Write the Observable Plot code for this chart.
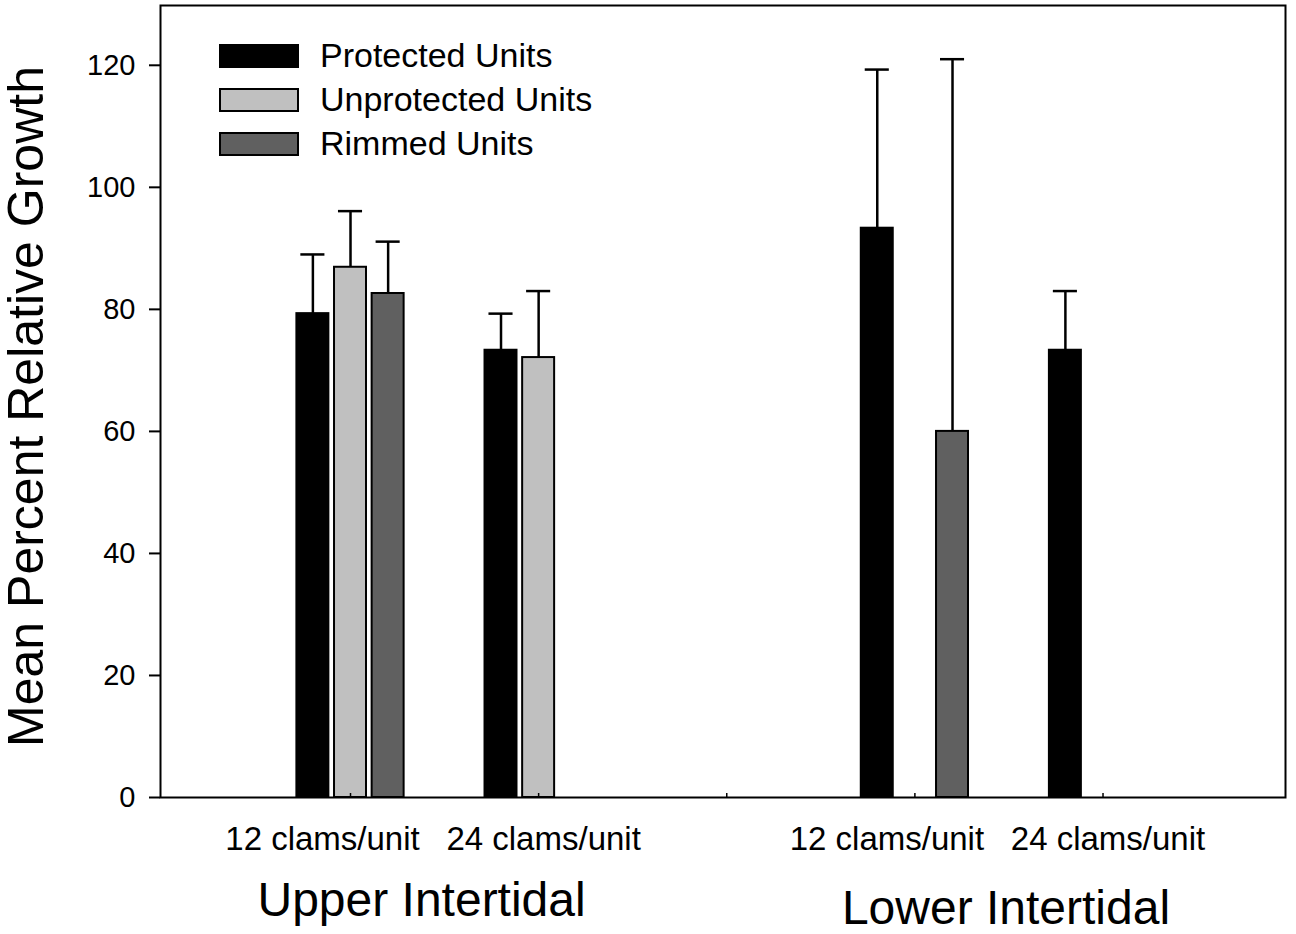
<!DOCTYPE html>
<html><head><meta charset="utf-8">
<script src="https://cdn.jsdelivr.net/npm/d3@7"></script>
<script src="https://cdn.jsdelivr.net/npm/@observablehq/plot@0.6"></script>
<style>html,body{margin:0;padding:0;background:#fff} #chart svg{display:block}</style>
</head><body><div id="chart"></div>
<script>
const habitats = ["Upper Intertidal", "Lower Intertidal"];
const densities = ["12 clams/unit", "24 clams/unit"];
const treatments = ["Protected Units", "Unprotected Units", "Rimmed Units"];
const treatmentColors = ["#000000", "#c0c0c0", "#606060"];
const yTitle = "Mean Percent Relative Growth";
// cell order: Upper 12, Upper 24, Lower 12, Lower 24
const protectedMean = [79.3, 73.3, 93.3, 73.3];
const protectedErr = [9.7, 6.0, 26.0, 9.7];
const unprotectedMean = [86.9, 72.1, null, null];
const unprotectedErr = [9.2, 10.9, null, null];
const rimmedMean = [82.6, null, 60.0, null];
const rimmedErr = [8.5, null, 61.0, null];
const yTicks = [0, 20, 40, 60, 80, 100, 120];

const cells = [];
habitats.forEach((h, hi) => densities.forEach((d, di) =>
  cells.push({habitat: h, density: d, di, slot: 1 + 3 * hi + di})));
const groups = habitats.map((h, hi) => ({habitat: h, hi, mid: 1.5 + 3 * hi}));
const means = [protectedMean, unprotectedMean, rimmedMean];
const errs = [protectedErr, unprotectedErr, rimmedErr];
const rows = [];
cells.forEach((c, ci) => treatments.forEach((t, ti) => {
  const m = means[ti][ci];
  if (m == null) return;
  rows.push({...c, treatment: t, ti, mean: m, top: m + errs[ti][ci], center: c.slot + (ti - 1) * 0.2});
}));

const font = "'Liberation Sans', Arial, Helvetica, sans-serif";
const plot = Plot.plot({
  width: 1296, height: 934,
  marginLeft: 160, marginRight: 11, marginTop: 5, marginBottom: 137,
  x: {domain: [-0.01, 5.97]},
  y: {domain: [0, 129.8]},
  color: {domain: treatments, range: treatmentColors},
  style: {fontFamily: font, color: "#000", background: "#fff", overflow: "visible"},
  marks: [
    Plot.ruleX(rows, {x: "center", y1: "mean", y2: "top", stroke: "#000", strokeWidth: 2.5}),
    Plot.ruleY(rows, {y: "top", x1: d => d.center - 0.064, x2: d => d.center + 0.064, stroke: "#000", strokeWidth: 2.5}),
    Plot.rectY(rows, {x1: d => d.center - 0.085, x2: d => d.center + 0.085, y1: 0, y2: "mean", fill: "treatment", stroke: "#000", strokeWidth: 2}),
    Plot.axisY({ticks: yTicks, tickSize: 11, tickPadding: 14, fontSize: 29, label: null, strokeWidth: 2}),
    Plot.axisX({ticks: [1, 2, 3, 4, 5], tickSize: -4, tickFormat: () => "", label: null, strokeWidth: 1.5}),
    Plot.frame({stroke: "#000", strokeWidth: 2}),
    Plot.text(cells.filter(c => c.di === 0), {x: "slot", text: "density", frameAnchor: "bottom", lineAnchor: "bottom", dy: 52, dx: -28, fontSize: 33}),
    Plot.text(cells.filter(c => c.di === 1), {x: "slot", text: "density", frameAnchor: "bottom", lineAnchor: "bottom", dy: 52, dx: 5, fontSize: 33}),
    Plot.text(groups.filter(g => g.hi === 0), {x: "mid", text: "habitat", frameAnchor: "bottom", lineAnchor: "bottom", dy: 118, dx: -23, fontSize: 48}),
    Plot.text(groups.filter(g => g.hi === 1), {x: "mid", text: "habitat", frameAnchor: "bottom", lineAnchor: "bottom", dy: 126, dx: -3, fontSize: 48}),
    Plot.text([yTitle], {text: d => d, frameAnchor: "left", textAnchor: "middle", rotate: -90, lineAnchor: "bottom", dx: -118, dy: 5, fontSize: 50})
  ]
});

const svg = d3.select(plot);
const lg = svg.append("g").attr("font-family", font).attr("font-size", 34).attr("text-anchor", "start");
treatments.forEach((t, i) => {
  lg.append("rect").attr("x", 220).attr("y", 45 + 44 * i).attr("width", 78).attr("height", 22)
    .attr("fill", treatmentColors[i]).attr("stroke", "#000").attr("stroke-width", 2);
  lg.append("text").attr("x", 320).attr("y", 67 + 44 * i).attr("fill", "#000").attr("text-anchor", "start").text(t);
});
document.getElementById("chart").appendChild(plot);
</script></body></html>
